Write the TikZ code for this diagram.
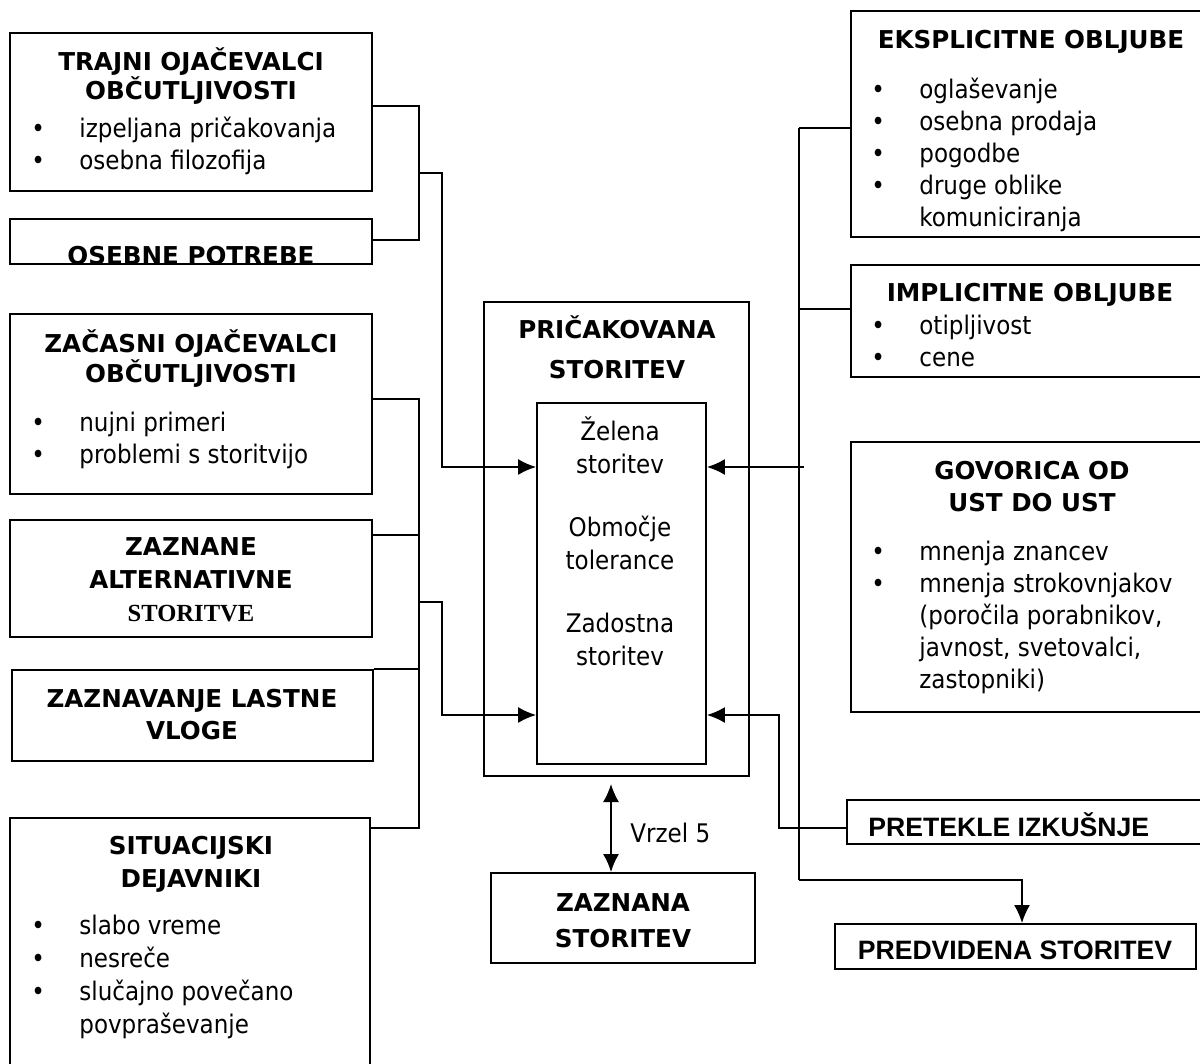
\documentclass[tikz,border=0pt]{standalone}
\usepackage{fontspec}
\setmainfont{DejaVu Sans Condensed}[BoldFont={DejaVu Sans Bold}]
\newfontfamily\arialfont{Liberation Sans}
\newfontfamily\timesfont{Liberation Serif}
\usetikzlibrary{arrows.meta,fit}

\tikzset{
  box/.style={draw, line width=0.9pt, inner sep=0pt},
  head/.style={font=\bfseries\fontsize{12.3}{14.5}\selectfont, align=center, inner sep=0pt, anchor=base},
  items/.style={font=\fontsize{12.8}{16}\selectfont, align=left, inner sep=0pt, anchor=base west},
  link/.style={line width=0.9pt},
  tip/.style={link, -{Latex[length=9pt,width=8pt]}},
}
\newcommand{\bul}{\makebox[24pt][l]{\textbullet}}
\newcommand{\ind}{\hspace*{24pt}}

\begin{document}
\begin{tikzpicture}[x=0.5pt, y=-0.5pt]

  \clip (0,0) rectangle (1200,1064);

  % left column of boxes (text nodes sit on their last baseline)
  \node[box, fit={(10,33) (372,191)}] (trajni) {};
  \node[head] (trajniH) at (191,100) {TRAJNI OJAČEVALCI\\OBČUTLJIVOSTI};
  \node[items] (trajniL) at (31,170) {\bul izpeljana pričakovanja\\\bul osebna filozofija};

  \begin{scope}
    \clip (10,219) rectangle (372,263);
    \node[head] (potrebeH) at (191,265) {OSEBNE POTREBE};
  \end{scope}
  \node[box, fit={(10,219) (372,264)}] (potrebe) {};

  \node[box, fit={(10,314) (372,494)}] (zacasni) {};
  \node[head] (zacasniH) at (191,382) {ZAČASNI OJAČEVALCI\\OBČUTLJIVOSTI};
  \node[items] (zacasniL) at (31,463) {\bul nujni primeri\\\bul problemi s storitvijo};

  \node[box, fit={(10,520) (372,637)}] (zaznane) {};
  \node[head, font=\bfseries\fontsize{12.3}{16.5}\selectfont] (zaznaneH) at (191,621)
    {ZAZNANE\\ALTERNATIVNE\\{\timesfont STORITVE}};

  \node[box, fit={(12,670) (373,761)}] (vloga) {};
  \node[head, font=\bfseries\fontsize{12.3}{16}\selectfont] (vlogaH) at (192,739) {ZAZNAVANJE LASTNE\\VLOGE};

  \node[box, fit={(10,818) (370,1080)}] (situacijski) {};
  \node[head, font=\bfseries\fontsize{12.3}{16.5}\selectfont] (situacijskiH) at (191,887) {SITUACIJSKI\\DEJAVNIKI};
  \node[items, font=\fontsize{12.8}{16.4}\selectfont] (situacijskiL) at (31,1033)
    {\bul slabo vreme\\\bul nesreče\\\bul slučajno povečano\\\ind povpraševanje};

  % expected service in the middle
  \node[box, fit={(484,302) (749,776)}] (pricakovana) {};
  \node[head, font=\bfseries\fontsize{12.3}{20}\selectfont] (pricakovanaH) at (617,379) {PRIČAKOVANA\\STORITEV};
  \node[box, fit={(537,403) (706,764)}] (inner) {};
  \node[head, font=\fontsize{12.8}{16.5}\selectfont] (innerT) at (620,665)
    {Želena\\storitev\\[15pt]Območje\\tolerance\\[15pt]Zadostna\\storitev};

  \node[box, fit={(491,873) (755,963)}] (zaznana) {};
  \node[head, font=\bfseries\fontsize{12.3}{18}\selectfont] (zaznanaH) at (623,947) {ZAZNANA\\STORITEV};

  % right column of boxes
  \node[box, fit={(851,11) (1210,237)}] (eksplicitne) {};
  \node[head] (eksplicitneH) at (1031,49) {EKSPLICITNE OBLJUBE};
  \node[items] (eksplicitneL) at (871,227)
    {\bul oglaševanje\\\bul osebna prodaja\\\bul pogodbe\\\bul druge oblike\\\ind komuniciranja};

  \node[box, fit={(851,265) (1210,377)}] (implicitne) {};
  \node[head] (implicitneH) at (1030,302) {IMPLICITNE OBLJUBE};
  \node[items] (implicitneL) at (871,366) {\bul otipljivost\\\bul cene};

  \node[box, fit={(851,442) (1210,712)}] (govorica) {};
  \node[head, font=\bfseries\fontsize{12.3}{16}\selectfont] (govoricaH) at (1032,511) {GOVORICA OD\\UST DO UST};
  \node[items] (govoricaL) at (871,688)
    {\bul mnenja znancev\\\bul mnenja strokovnjakov\\\ind (poročila porabnikov,\\\ind javnost, svetovalci,\\\ind zastopniki)};

  \node[box, fit={(847,800) (1210,844)}] (pretekle) {};
  \node[head, font=\arialfont\bfseries\fontsize{13.3}{14}\selectfont, anchor=base west] (preteklaH) at (868,836) {PRETEKLE IZKUŠNJE};

  \node[box, fit={(835,924) (1196,969)}] (predvidena) {};
  \node[head, font=\arialfont\bfseries\fontsize{13.3}{14}\selectfont] (predvidenaH) at (1015,959) {PREDVIDENA STORITEV};

  % left bus, upper part
  \coordinate (aTop) at (419,106);
  \coordinate (aBot) at (419,240);
  \coordinate (aMid) at (419,173);
  \coordinate (aIn) at (442,173);
  \coordinate (aEnd) at (442,467);
  \draw[link] (trajni.east |- aTop) -- (aTop) -- (aBot) -- (potrebe.east |- aBot);
  \draw[tip] (aMid) -- (aIn) -- (aEnd) -- (inner.west |- aEnd);

  % left bus, lower part
  \coordinate (bTop) at (419,399);
  \coordinate (bBot) at (419,828);
  \coordinate (bAlt) at (419,535);
  \coordinate (bMid) at (419,602);
  \coordinate (bIn) at (442,602);
  \coordinate (bEnd) at (442,715);
  \draw[link] (zacasni.east |- bTop) -- (bTop) -- (bBot) -- (situacijski.east |- bBot);
  \draw[link] (zaznane.east |- bAlt) -- (bAlt);
  \draw[link] (vloga.north east) -- (vloga.north east -| bTop);
  \draw[tip] (bMid) -- (bIn) -- (bEnd) -- (inner.west |- bEnd);

  % right bus
  \coordinate (cTop) at (799,128);
  \coordinate (cImp) at (799,309);
  \coordinate (cGov) at (804,467);
  \coordinate (cBot) at (799,880);
  \coordinate (cTurn) at (1022,880);
  \draw[link] (cTop) -- (cBot);
  \draw[link] (cTop) -- (eksplicitne.west |- cTop);
  \draw[link] (cImp) -- (implicitne.west |- cImp);
  \draw[tip] (cGov) -- (inner.east |- cGov);
  \draw[tip] (cBot) -- (cTurn) -- (predvidena.north -| cTurn);

  % past experience
  \coordinate (dTurn) at (779,828);
  \coordinate (dUp) at (779,715);
  \draw[tip] (pretekle.west |- dTurn) -- (dTurn) -- (dUp) -- (inner.east |- dUp);

  % gap 5
  \coordinate (vTop) at (611,784);
  \draw[link, {Latex[length=9pt,width=8pt]}-{Latex[length=9pt,width=8pt]}] (vTop) -- (zaznana.north -| vTop);
  \node[items] (vrzel) at (630,842) {Vrzel 5};

\end{tikzpicture}
\end{document}
